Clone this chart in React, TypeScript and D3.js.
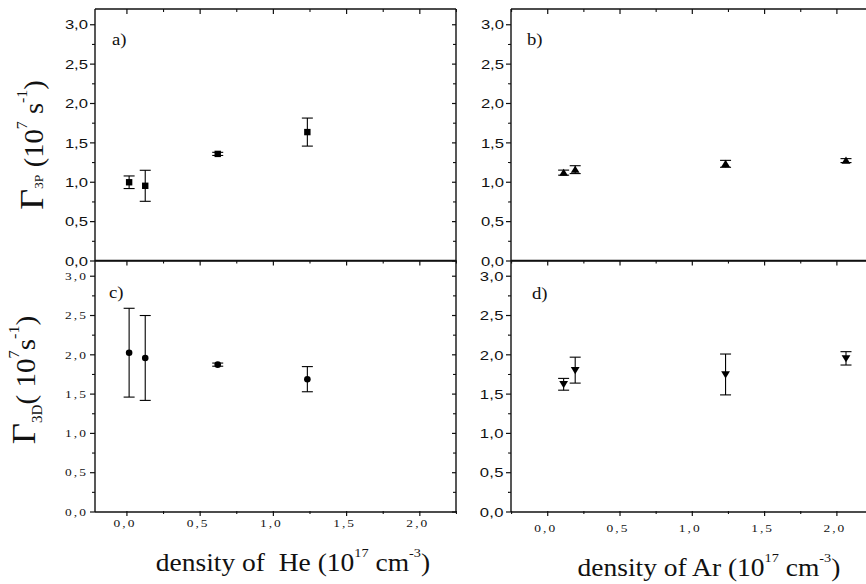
import React from 'react';
import * as d3 from 'd3';

// densities (10^17 cm^-3)
const heDensity = [0.015, 0.125, 0.62, 1.232];
const arDensity = [0.11, 0.19, 1.23, 2.063];

// Gamma 3P (10^7 s^-1)
const g3pHe = [1.0, 0.955, 1.36, 1.637];
const g3pHeErr = [0.08, 0.197, 0.02, 0.178];
const g3pAr = [1.122, 1.16, 1.234, 1.275];
const g3pArErr = [0.032, 0.05, 0.044, 0.025];

// Gamma 3D (10^7 s^-1)
const g3dHe = [2.027, 1.96, 1.875, 1.69];
const g3dHeErr = [0.565, 0.54, 0.02, 0.16];
const g3dAr = [1.625, 1.805, 1.75, 1.955];
const g3dArErr = [0.075, 0.165, 0.26, 0.085];

const yMajor = [0, 0.5, 1.0, 1.5, 2.0, 2.5, 3.0];
const yMinor = [0.25, 0.75, 1.25, 1.75, 2.25, 2.75];
const xMajor = [0, 0.5, 1.0, 1.5, 2.0];
const xMinor = [-0.25, 0.25, 0.75, 1.25, 1.75, 2.25];

const SANS = "'Liberation Sans', Arial, sans-serif";
const SERIF = "'Liberation Serif', 'Times New Roman', serif";
const STRETCH = 1.28;

const fmt = (v: number) => d3.format('.1f')(v).replace('.', ',');

function Marker({ kind, cx, cy }: { kind: string; cx: number; cy: number }) {
    if (kind === 'square') {
        return <rect x={cx - 3.2} y={cy - 3.2} width={6.4} height={6.4} fill="#000" />;
    }
    if (kind === 'circle') {
        return <circle cx={cx} cy={cy} r={3.3} fill="#000" />;
    }
    if (kind === 'up') {
        return <path d={`M${cx - 4.4},${cy + 3.2} L${cx + 4.4},${cy + 3.2} L${cx},${cy - 4} Z`} fill="#000" />;
    }
    return <path d={`M${cx - 4.4},${cy - 3.2} L${cx + 4.4},${cy - 3.2} L${cx},${cy + 4} Z`} fill="#000" />;
}

function Panel({
    x0, x1, y0, y1, xDomain, xs, ys, errs, kind, letter, letterPos,
    tickFont, tickSize, tickSpacing, rightBorder, topTicks, bottomLabels, xLabelDy,
}: any) {
    const x = d3.scaleLinear(xDomain, [x0, x1]);
    const y = d3.scaleLinear([0, 3.2], [y0, y1]);
    const inX = (v: number) => x(v) >= x0 - 0.5 && x(v) <= x1 + 0.5;

    return (
        <g>
            {/* frame */}
            <line x1={x0} x2={x0} y1={y1} y2={y0} stroke="#111" strokeWidth={1.4} />
            <line x1={x0} x2={x1} y1={y0} y2={y0} stroke="#111" strokeWidth={1.4} />
            <line x1={x0} x2={x1} y1={y1} y2={y1} stroke="#111" strokeWidth={1.4} />
            {rightBorder && <line x1={x1} x2={x1} y1={y1} y2={y0} stroke="#111" strokeWidth={1.4} />}

            {/* y ticks */}
            {yMajor.map((v) => (
                <g key={'ym' + v}>
                    <line x1={x0 - 5} x2={x0} y1={y(v)} y2={y(v)} stroke="#111" strokeWidth={1.2} />
                    {rightBorder && <line x1={x1 - 4} x2={x1} y1={y(v)} y2={y(v)} stroke="#111" strokeWidth={1.2} />}
                    <text
                        transform={`translate(${x0 - 7},${y(v)}) scale(${STRETCH},1)`}
                        textAnchor="end"
                        dy="0.36em"
                        fontFamily={tickFont}
                        fontSize={tickSize}
                        letterSpacing={tickSpacing}
                        fill="#111"
                    >
                        {fmt(v)}
                    </text>
                </g>
            ))}
            {yMinor.map((v) => (
                <g key={'yn' + v}>
                    <line x1={x0 - 3} x2={x0} y1={y(v)} y2={y(v)} stroke="#111" strokeWidth={1.1} />
                    {rightBorder && <line x1={x1 - 3} x2={x1} y1={y(v)} y2={y(v)} stroke="#111" strokeWidth={1.1} />}
                </g>
            ))}

            {/* x ticks */}
            {xMajor.filter(inX).map((v) => (
                <g key={'xm' + v}>
                    {topTicks && <line x1={x(v)} x2={x(v)} y1={y1} y2={y1 + 5} stroke="#111" strokeWidth={1.2} />}
                    {bottomLabels && (
                        <g>
                            <line x1={x(v)} x2={x(v)} y1={y0 - 1} y2={y0 + 4} stroke="#111" strokeWidth={1.2} />
                            <text
                                transform={`translate(${x(v) - 2},${y0 + 15 + xLabelDy}) scale(${STRETCH},1)`}
                                textAnchor="middle"
                                fontFamily={SERIF}
                                fontSize={10.5}
                                letterSpacing={1.6}
                                fill="#111"
                            >
                                {fmt(v)}
                            </text>
                        </g>
                    )}
                </g>
            ))}
            {xMinor.filter(inX).map((v) => (
                <g key={'xn' + v}>
                    {topTicks && <line x1={x(v)} x2={x(v)} y1={y1} y2={y1 + 3} stroke="#111" strokeWidth={1.1} />}
                    {bottomLabels && <line x1={x(v)} x2={x(v)} y1={y0 - 1} y2={y0 + 2} stroke="#111" strokeWidth={1.1} />}
                </g>
            ))}

            {/* error bars */}
            <g stroke="#000" strokeWidth={1.1}>
                {xs.map((d: number, i: number) => (
                    <g key={'e' + i}>
                        <line x1={x(d)} x2={x(d)} y1={y(ys[i] - errs[i])} y2={y(ys[i] + errs[i])} />
                        <line x1={x(d) - 5.5} x2={x(d) + 5.5} y1={y(ys[i] - errs[i])} y2={y(ys[i] - errs[i])} />
                        <line x1={x(d) - 5.5} x2={x(d) + 5.5} y1={y(ys[i] + errs[i])} y2={y(ys[i] + errs[i])} />
                    </g>
                ))}
            </g>
            {xs.map((d: number, i: number) => (
                <Marker key={'m' + i} kind={kind} cx={x(d)} cy={y(ys[i])} />
            ))}

            <text
                transform={`translate(${letterPos[0]},${letterPos[1]}) scale(1.1,1)`}
                fontFamily={SERIF}
                fontSize={17}
                fill="#111"
            >
                {letter}
            </text>
        </g>
    );
}

export default function App() {
    const L = { x0: 95, x1: 456, xDomain: [-0.218, 2.247] };
    const R = { x0: 511, x1: 870, xDomain: [-0.254, 2.229] };
    const T = { y0: 261, y1: 9 };
    const B = { y0: 512, y1: 260.5 };

    return (
        <svg
            width={866}
            height={584}
            style={{ position: 'absolute', left: 0, top: 0, background: '#fff' }}
        >
            <rect width={866} height={584} fill="#fff" />
            <Panel {...L} {...T} xs={heDensity} ys={g3pHe} errs={g3pHeErr} kind="square"
                letter="a)" letterPos={[112, 45]} tickFont={SANS} tickSize={13} tickSpacing={0}
                rightBorder topTicks bottomLabels={false} xLabelDy={0} />
            <Panel {...R} {...T} xs={arDensity} ys={g3pAr} errs={g3pArErr} kind="up"
                letter="b)" letterPos={[527, 45]} tickFont={SANS} tickSize={13} tickSpacing={0}
                rightBorder={false} topTicks bottomLabels={false} xLabelDy={0} />
            <Panel {...L} {...B} xs={heDensity} ys={g3dHe} errs={g3dHeErr} kind="circle"
                letter="c)" letterPos={[109, 298]} tickFont={SERIF} tickSize={10.5} tickSpacing={1.6}
                rightBorder topTicks bottomLabels xLabelDy={0} />
            <Panel {...R} {...B} xs={arDensity} ys={g3dAr} errs={g3dArErr} kind="down"
                letter="d)" letterPos={[532, 299]} tickFont={SANS} tickSize={13} tickSpacing={0.3}
                rightBorder={false} topTicks bottomLabels xLabelDy={5} />

            {/* y axis titles */}
            <text transform="translate(43,145) rotate(-90) scale(1.06,1)" textAnchor="middle"
                fontFamily={SERIF} fontSize={27} fill="#111">
                <tspan fontSize={34}>Γ</tspan>
                <tspan fontSize={13}>3P</tspan>
                <tspan> (10</tspan>
                <tspan fontSize={15} dy={-16}>7</tspan>
                <tspan dy={16}> s</tspan>
                <tspan fontSize={15} dy={-16}>-1</tspan>
                <tspan dy={16}>)</tspan>
            </text>
            <text transform="translate(35,380) rotate(-90) scale(1.08,1)" textAnchor="middle"
                fontFamily={SERIF} fontSize={27} fill="#111">
                <tspan fontSize={34}>Γ</tspan>
                <tspan fontSize={14} dy={7}>3D</tspan>
                <tspan dy={-7}>( 10</tspan>
                <tspan fontSize={15} dy={-16}>7</tspan>
                <tspan dy={16}>s</tspan>
                <tspan fontSize={15} dy={-16}>-1</tspan>
                <tspan dy={16}>)</tspan>
            </text>

            {/* x axis titles */}
            <text transform="translate(293,571) scale(1.1,1)" textAnchor="middle"
                fontFamily={SERIF} fontSize={25} fill="#111">
                <tspan>{'density of \u00a0He (10'}</tspan>
                <tspan fontSize={13} dy={-14}>17</tspan>
                <tspan dy={14}> cm</tspan>
                <tspan fontSize={13} dy={-14}>-3</tspan>
                <tspan dy={14}>)</tspan>
            </text>
            <text transform="translate(709,576) scale(1.1,1)" textAnchor="middle"
                fontFamily={SERIF} fontSize={25} fill="#111">
                <tspan>density of Ar (10</tspan>
                <tspan fontSize={13} dy={-14}>17</tspan>
                <tspan dy={14}> cm</tspan>
                <tspan fontSize={13} dy={-14}>-3</tspan>
                <tspan dy={14}>)</tspan>
            </text>
        </svg>
    );
}
